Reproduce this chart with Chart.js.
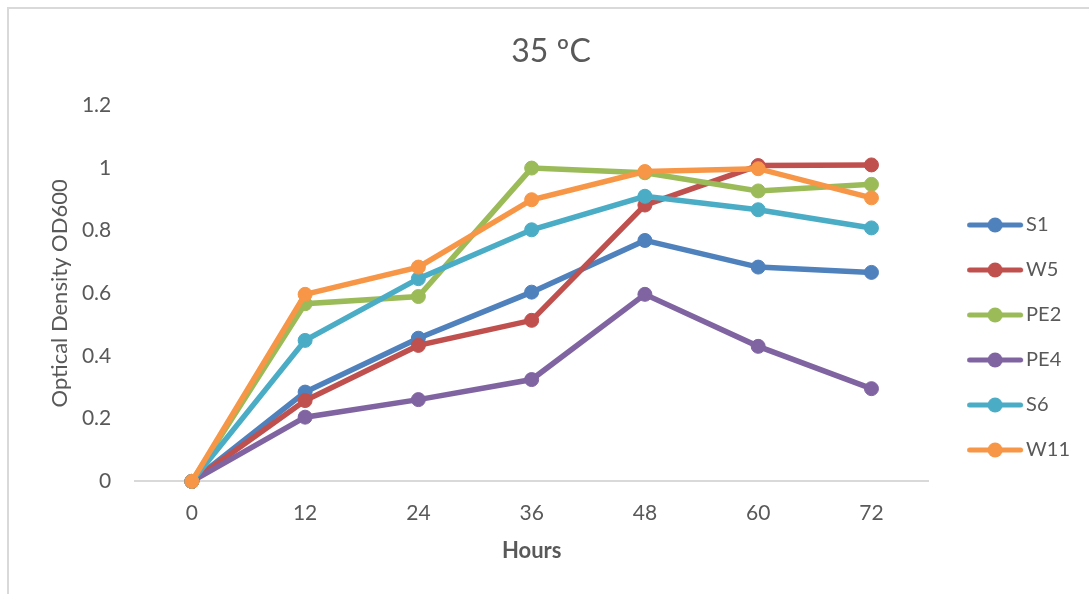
<!DOCTYPE html>
<html>
<head>
<meta charset="utf-8">
<script src="https://cdn.jsdelivr.net/npm/chart.js@4.4.1/dist/chart.umd.min.js"></script>
<style>
  html, body { margin: 0; padding: 0; background: #fff; }
  body { width: 1089px; height: 594px; overflow: hidden; position: relative; }
  #frame { position: absolute; left: 7px; top: 7px; width: 1082px; height: 587px;
           border-left: 2px solid #d9d9d9; border-top: 2px solid #d9d9d9; box-sizing: border-box; }
  #c { position: absolute; left: 0; top: 0; }
</style>
</head>
<body>
<div id="frame"><canvas id="c" width="1080" height="585"></canvas></div>
<script>
const chartTitle = '35 ºC';
const xTitle = 'Hours';
const yTitle = 'Optical Density OD600';
const hours = ['0', '12', '24', '36', '48', '60', '72'];
const yTicks = [0, 0.2, 0.4, 0.6, 0.8, 1, 1.2];
const seriesNames = ['S1', 'W5', 'PE2', 'PE4', 'S6', 'W11'];
const seriesColors = ['#4F81BD', '#C0504D', '#9BBB59', '#8064A2', '#4BACC6', '#F79646'];
const S1  = [0, 0.285, 0.457, 0.604, 0.769, 0.684, 0.667];
const W5  = [0, 0.258, 0.434, 0.514, 0.882, 1.008, 1.010];
const PE2 = [0, 0.567, 0.590, 1.000, 0.985, 0.927, 0.948];
const PE4 = [0, 0.205, 0.261, 0.325, 0.597, 0.431, 0.296];
const S6  = [0, 0.450, 0.647, 0.803, 0.910, 0.867, 0.809];
const W11 = [0, 0.597, 0.684, 0.899, 0.989, 0.998, 0.905];
const seriesValues = [S1, W5, PE2, PE4, S6, W11];

const TEXT = '#595959';
Chart.defaults.font.family = 'Lato, "Open Sans", sans-serif';
Chart.defaults.color = TEXT;

// legend geometry (relative to legend item box x)
const LEG_PAD = 25, LEG_PW = 63, LEG_X1 = 14, LEG_X2 = 70, LEG_C = 42, LEG_H = 18;
function legendIcon(color) {
  const half = Math.max(Math.abs(LEG_X1 - LEG_PW / 2), Math.abs(LEG_X2 - LEG_PW / 2)) + 2;
  const W = Math.ceil(half * 2);
  const cv = document.createElement('canvas');
  cv.width = W; cv.height = LEG_H;
  const g = cv.getContext('2d');
  const off = W / 2 - LEG_PW / 2;
  g.strokeStyle = color; g.lineWidth = 5; g.lineCap = 'round';
  g.beginPath(); g.moveTo(LEG_X1 + 2.5 + off, LEG_H / 2); g.lineTo(LEG_X2 - 2.5 + off, LEG_H / 2); g.stroke();
  g.fillStyle = color;
  g.beginPath(); g.arc(LEG_C + off, LEG_H / 2, 7.5, 0, Math.PI * 2); g.fill();
  return cv;
}
const icons = seriesColors.map(legendIcon);

const datasets = seriesNames.map((name, i) => ({
  label: name,
  data: seriesValues[i],
  borderColor: seriesColors[i],
  backgroundColor: seriesColors[i],
  pointBackgroundColor: seriesColors[i],
  pointBorderColor: seriesColors[i],
  borderWidth: 5.5,
  pointRadius: 7,
  pointBorderWidth: 1,
  pointHoverRadius: 7,
  tension: 0,
  fill: false,
  clip: false,
  order: seriesNames.length - i
}));

new Chart(document.getElementById('c'), {
  type: 'line',
  data: { labels: hours, datasets },
  options: {
    responsive: false,
    animation: false,
    events: [],
    layout: { padding: { left: 13, right: 9, top: 0, bottom: 30 } },
    plugins: {
      title: {
        display: true, text: chartTitle, color: TEXT,
        font: { size: 32, weight: 'normal' },
        padding: { top: 23, bottom: 35 }
      },
      legend: {
        position: 'right',
        fullSize: true,
        title: { display: true, text: ' ', font: { size: 10, lineHeight: 1 }, padding: { top: 92, bottom: 0 } },
        labels: {
          usePointStyle: true,
          pointStyleWidth: LEG_PW,
          padding: LEG_PAD,
          color: TEXT,
          font: { size: 20 },
          generateLabels: (chart) => chart.data.datasets.map((ds, i) => ({
            text: ds.label,
            fillStyle: ds.borderColor,
            strokeStyle: ds.borderColor,
            lineWidth: 0,
            pointStyle: icons[i],
            datasetIndex: i,
            hidden: false,
            fontColor: TEXT
          }))
        }
      },
      tooltip: { enabled: false }
    },
    scales: {
      x: {
        type: 'category',
        offset: true,
        grid: { display: false, drawTicks: false },
        border: { display: true, color: '#d9d9d9', width: 2 },
        ticks: { color: TEXT, font: { size: 21 }, padding: 19 },
        title: { display: true, text: xTitle, color: TEXT, font: { size: 22, weight: 'bold' }, padding: { top: -7, bottom: 0 } }
      },
      y: {
        min: 0, max: 1.2,
        afterBuildTicks: (scale) => { scale.ticks = yTicks.map(v => ({ value: v })); },
        grid: { display: false, drawTicks: false },
        border: { display: false },
        ticks: { color: TEXT, font: { size: 21 }, padding: 24, callback: (v) => String(Math.round(v * 10) / 10) },
        title: { display: true, text: yTitle, color: TEXT, font: { size: 22, weight: 'normal' }, padding: { top: 25, bottom: -15.5 } }
      }
    }
  }
});
</script>
</body>
</html>
